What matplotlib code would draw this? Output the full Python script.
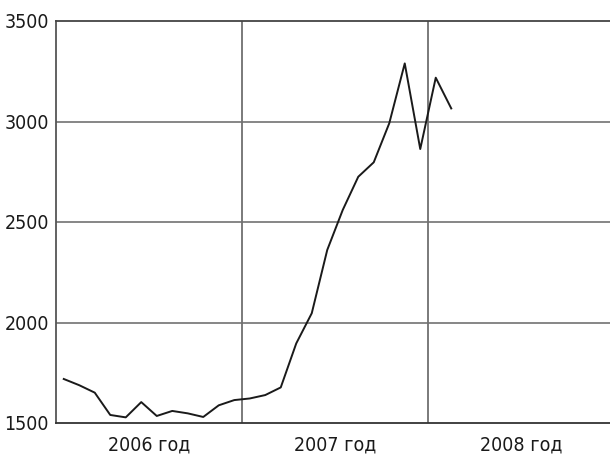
import matplotlib
matplotlib.use('Agg')
import matplotlib.pyplot as plt
from matplotlib import font_manager

# monthly values, Jan 2006 .. Feb 2008
values_2006 = [1719, 1688, 1651, 1540, 1528, 1604, 1535, 1560, 1548, 1530, 1588, 1614]
values_2007 = [1622, 1639, 1677, 1896, 2046, 2361, 2560, 2725, 2797, 2991, 3289, 2863]
values_2008 = [3218, 3065]
year_labels = ['2006 год', '2007 год', '2008 год']
y_ticks = [1500, 2000, 2500, 3000, 3500]

values = values_2006 + values_2007 + values_2008
months = [i + 0.5 for i in range(len(values))]

# look for a narrow face, the original uses a condensed font
names = {f.name for f in font_manager.fontManager.ttflist}
fam = ['DejaVu Sans']
stretch = 'normal'
for cand in ['Liberation Sans Narrow', 'DejaVu Sans Condensed']:
    if cand in names:
        fam = [cand, 'DejaVu Sans']
        break
else:
    stretch = 'condensed'
plt.rcParams['font.family'] = fam
plt.rcParams['font.stretch'] = stretch

fig = plt.figure(figsize=(6.1, 4.55), dpi=100)
ax = fig.add_axes([56/610, 32/455, 1 - 56/610, 402/455])

for y in y_ticks[1:-1]:
    ax.axhline(y, color='#666666', lw=1.1, zorder=1)
for x in [12, 24]:
    ax.axvline(x, color='#707070', lw=1.3, zorder=1)

ax.plot(months, values, color='#1a1a1a', lw=1.4, zorder=3)

ax.set_xlim(0, 554/15.5)
ax.set_ylim(1500, 3500)
ax.set_yticks(y_ticks)
ax.set_xticks([6, 18, 30])
ax.set_xticklabels(year_labels)
ax.tick_params(axis='both', length=0, labelsize=14, colors='#1a1a1a')
ax.tick_params(axis='y', pad=5)
ax.tick_params(axis='x', pad=9)

ax.spines['right'].set_visible(False)
ax.spines['top'].set_color('#444444')
ax.spines['left'].set_color('#555555')
ax.spines['bottom'].set_color('#333333')
for s in ['top', 'left', 'bottom']:
    ax.spines[s].set_linewidth(1.3)

fig.savefig('out.png', dpi=100)
